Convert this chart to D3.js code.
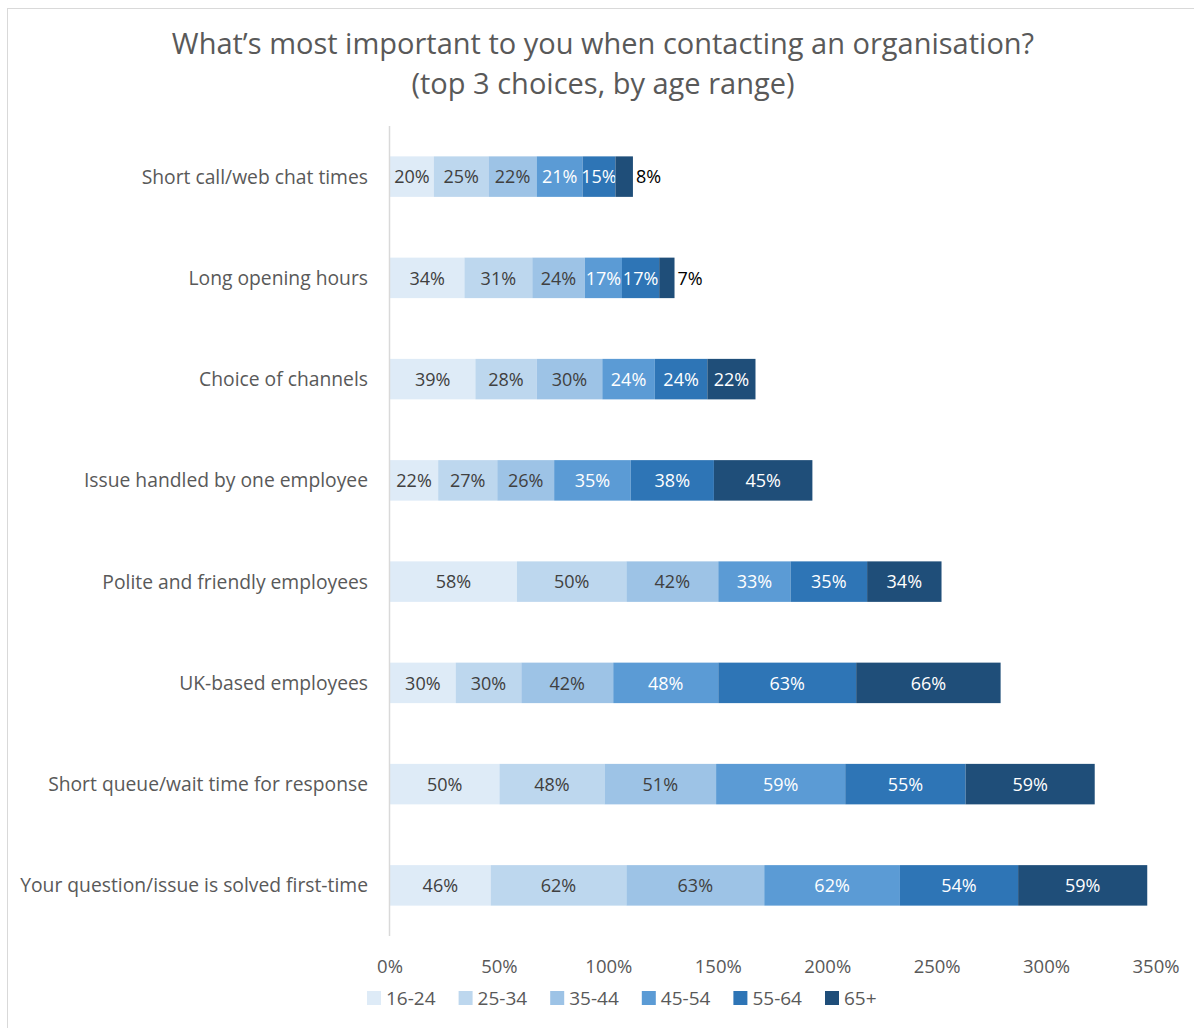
<!DOCTYPE html>
<html>
<head>
<meta charset="utf-8">
<script src="https://cdn.jsdelivr.net/npm/d3@7"></script>
<style>
  html, body { margin: 0; padding: 0; background: #fff; }
  svg { display: block; font-family: "Open Sans", "Liberation Sans", Arial, sans-serif; }
</style>
</head>
<body>
<div id="chart"></div>
<script>
/* stacked horizontal bar chart, top 3 choices by age range */

const categories = [
  'Short call/web chat times',
  'Long opening hours',
  'Choice of channels',
  'Issue handled by one employee',
  'Polite and friendly employees',
  'UK-based employees',
  'Short queue/wait time for response',
  'Your question/issue is solved first-time'
];

const ageGroups = ['16-24', '25-34', '35-44', '45-54', '55-64', '65+'];

const v16_24 = [20, 34, 39, 22, 58, 30, 50, 46];
const v25_34 = [25, 31, 28, 27, 50, 30, 48, 62];
const v35_44 = [22, 24, 30, 26, 42, 42, 51, 63];
const v45_54 = [21, 17, 24, 35, 33, 48, 59, 62];
const v55_64 = [15, 17, 24, 38, 35, 63, 55, 54];
const v65    = [8, 7, 22, 45, 34, 66, 59, 59];

const xTicks = [0, 50, 100, 150, 200, 250, 300, 350];

const colors = ['#DEEBF7', '#BDD7EE', '#9DC3E6', '#5B9BD5', '#2E75B6', '#1F4E79'];
const labelColors = ['#404040', '#404040', '#404040', '#fff', '#fff', '#fff'];

const W = 1194, H = 1028;
const margin = { top: 126, right: 38, bottom: 92, left: 390 };

const rows = categories.map((c, i) => ({
  cat: c,
  '16-24': v16_24[i], '25-34': v25_34[i], '35-44': v35_44[i],
  '45-54': v45_54[i], '55-64': v55_64[i], '65+': v65[i]
}));

const series = d3.stack().keys(ageGroups)(rows);

const svg = d3.select('#chart').append('svg')
  .attr('width', W).attr('height', H);

// chart border
svg.append('rect')
  .attr('x', 7.5).attr('y', 8.5)
  .attr('width', W + 10).attr('height', H + 10)
  .attr('fill', 'none').attr('stroke', '#d9d9d9').attr('stroke-width', 1);

const x = d3.scaleLinear().domain([0, 350]).range([margin.left, W - margin.right]);
const y = d3.scaleBand().domain(categories)
  .range([margin.top, H - margin.bottom]).paddingInner(0.6).paddingOuter(0.3);

// title
svg.append('text')
  .attr('x', 603).attr('y', 54)
  .attr('text-anchor', 'middle')
  .attr('fill', '#595959').attr('font-size', 29)
  .text('What\u2019s most important to you when contacting an organisation?');
svg.append('text')
  .attr('x', 603).attr('y', 94)
  .attr('text-anchor', 'middle')
  .attr('fill', '#595959').attr('font-size', 29)
  .text('(top 3 choices, by age range)');

// bars
const g = svg.append('g');
series.forEach((s, si) => {
  const grp = g.append('g');
  grp.selectAll('rect').data(s).join('rect')
    .attr('x', d => x(d[0]))
    .attr('y', d => y(d.data.cat))
    .attr('width', d => x(d[1]) - x(d[0]))
    .attr('height', y.bandwidth())
    .attr('fill', colors[si]);

  grp.selectAll('text').data(s).join('text')
    .attr('x', d => {
      const w = x(d[1]) - x(d[0]);
      return w < 25 ? x(d[1]) + 3 : (x(d[0]) + x(d[1])) / 2;
    })
    .attr('y', d => y(d.data.cat) + y.bandwidth() / 2)
    .attr('dy', '0.38em')
    .attr('text-anchor', d => (x(d[1]) - x(d[0]) < 25 ? 'start' : 'middle'))
    .attr('font-size', 18)
    .attr('fill', d => (x(d[1]) - x(d[0]) < 25 ? '#000' : labelColors[si]))
    .text(d => (d[1] - d[0]) + '%');
});

// vertical axis line
svg.append('line')
  .attr('x1', x(0) - 0.5).attr('x2', x(0) - 0.5)
  .attr('y1', margin.top).attr('y2', H - margin.bottom)
  .attr('stroke', '#d9d9d9').attr('stroke-width', 1.5);

// category labels
svg.append('g').selectAll('text').data(categories).join('text')
  .attr('x', 368)
  .attr('y', d => y(d) + y.bandwidth() / 2)
  .attr('dy', '0.36em')
  .attr('text-anchor', 'end')
  .attr('font-size', 19.3)
  .attr('fill', '#595959')
  .text(d => d);

// x tick labels
svg.append('g').selectAll('text').data(xTicks).join('text')
  .attr('x', d => x(d))
  .attr('y', 966)
  .attr('dy', '0.36em')
  .attr('text-anchor', 'middle')
  .attr('font-size', 18.5)
  .attr('fill', '#595959')
  .text(d => d + '%');

// legend
const leg = svg.append('g').selectAll('g').data(ageGroups).join('g')
  .attr('transform', (d, i) => `translate(${367 + i * 91.6},998)`);
leg.append('rect')
  .attr('x', 0).attr('y', -7)
  .attr('width', 14).attr('height', 14)
  .attr('fill', (d, i) => colors[i]);
leg.append('text')
  .attr('x', 19).attr('y', 0).attr('dy', '0.36em')
  .attr('font-size', 19)
  .attr('fill', '#595959')
  .text(d => d);
</script>
</body>
</html>
